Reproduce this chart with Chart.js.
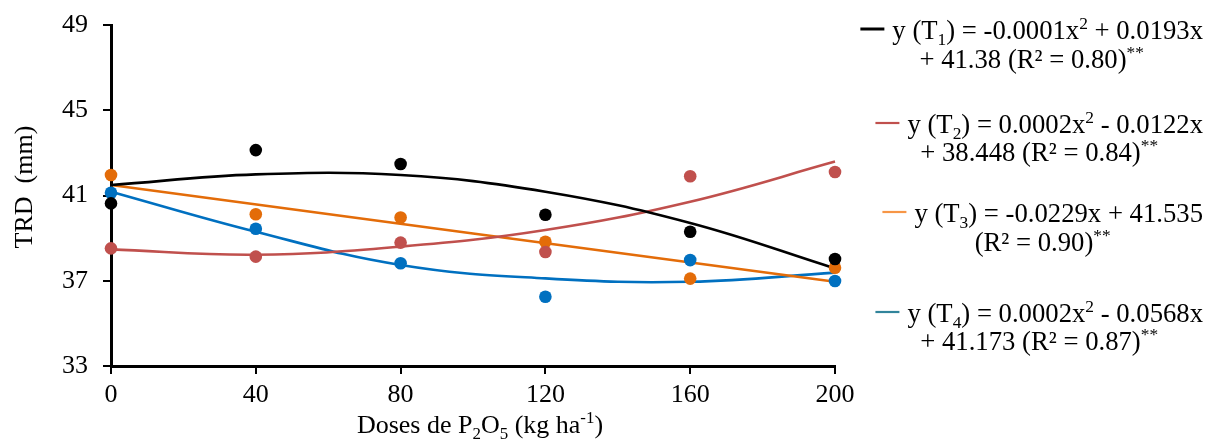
<!DOCTYPE html>
<html><head><meta charset="utf-8">
<script src="https://cdn.jsdelivr.net/npm/chart.js@4"></script>
<style>html,body{margin:0;padding:0;background:#fff}canvas{display:block}</style>
</head><body>
<canvas id="c" width="1208" height="440"></canvas>
<script>
// ---- data ----
const doses = [0, 40, 80, 120, 160, 200];
const t1Obs = [40.63, 43.13, 42.48, 40.10, 39.30, 38.02];
const t2Obs = [38.52, 38.13, 38.79, 38.35, 41.90, 42.10];
const t3Obs = [41.96, 40.12, 39.97, 38.83, 37.10, 37.61];
const t4Obs = [41.13, 39.44, 37.82, 36.25, 37.97, 36.99];
// fitted curves as drawn in the picture
const t1Fit = [41.49, 41.99, 41.96, 41.18, 39.71, 37.58];
const t2Fit = [38.47, 38.22, 38.60, 39.38, 40.71, 42.59];
const t3FitX = [0, 200];
const t3Fit = [41.49, 36.95];
const t4Fit = [41.18, 39.30, 37.74, 37.11, 36.95, 37.38];
const yTicks = [33, 37, 41, 45, 49];
const xTicks = [0, 40, 80, 120, 160, 200];
const yTitle = 'TRD  (mm)';
const xTitle = [['Doses de P'], ['2', 'sub'], ['O'], ['5', 'sub'], [' (kg ha'], ['-1', 'sup'], [')']];
const legendLine1 = [
  [['y (T'], ['1', 'sub'], [') = -0.0001x'], ['2', 'sup'], [' + 0.0193x']],
  [['y (T'], ['2', 'sub'], [') = 0.0002x'], ['2', 'sup'], [' - 0.0122x']],
  [['y (T'], ['3', 'sub'], [') = -0.0229x + 41.535']],
  [['y (T'], ['4', 'sub'], [') = 0.0002x'], ['2', 'sup'], [' - 0.0568x']]
];
const legendLine2 = [
  [['+ 41.38 (R² = 0.80)'], ['**', 'sup']],
  [['+ 38.448 (R² = 0.84)'], ['**', 'sup']],
  [['(R² = 0.90)'], ['**', 'sup']],
  [['+ 41.173 (R² = 0.87)'], ['**', 'sup']]
];
const seriesColors = ['#000000', '#C0504D', '#E36C09', '#0070C0'];
const legendColors = ['#000000', '#C0504D', '#F79646', '#31849B'];

// ---- layout ----
const FONT = '"Liberation Serif", "Times New Roman", serif';
const legendBaselines = [[39, 68], [133, 161], [222, 251], [322, 350]];
const legendRight = 1203;

function segFont(kind, base) {
  if (kind === 'sub' || kind === 'sup') return (base * 0.65).toFixed(1) + 'px ' + FONT;
  return base + 'px ' + FONT;
}
function segOffset(kind) {
  if (kind === 'sub') return 6;
  if (kind === 'sup') return -10;
  return 0;
}
function richWidth(ctx, segs, base) {
  let w = 0;
  for (const s of segs) { ctx.font = segFont(s[1], base); w += ctx.measureText(s[0]).width; }
  return w;
}
function drawRich(ctx, segs, x, y, base) {
  ctx.textBaseline = 'alphabetic';
  ctx.textAlign = 'left';
  for (const s of segs) {
    ctx.font = segFont(s[1], base);
    ctx.fillText(s[0], x, y + segOffset(s[1]));
    x += ctx.measureText(s[0]).width;
  }
}

const overlay = {
  id: 'overlay',
  afterDraw(chart) {
    const ctx = chart.ctx;
    const LF = 26.7;
    ctx.save();
    ctx.fillStyle = '#000';
    // legend
    for (let i = 0; i < legendLine1.length; i++) {
      const w1 = richWidth(ctx, legendLine1[i], LF);
      const textX = legendRight - w1;
      const dashR = textX - 8;
      const dashL = dashR - 24;
      const by = legendBaselines[i][0];
      ctx.strokeStyle = legendColors[i];
      ctx.lineWidth = i === 0 ? 3 : 2.2;
      ctx.beginPath();
      ctx.moveTo(dashL, by - 10);
      ctx.lineTo(dashR, by - 10);
      ctx.stroke();
      ctx.fillStyle = '#000';
      drawRich(ctx, legendLine1[i], textX, by, LF);
      const w2 = richWidth(ctx, legendLine2[i], LF);
      const cx = (dashL + legendRight) / 2;
      drawRich(ctx, legendLine2[i], cx - w2 / 2, legendBaselines[i][1], LF);
    }
    // x title
    const wx = richWidth(ctx, xTitle, 26);
    drawRich(ctx, xTitle, 480 - wx / 2, 433, 26);
    // y title
    ctx.translate(25, 187);
    ctx.rotate(-Math.PI / 2);
    ctx.font = '26px ' + FONT;
    ctx.textAlign = 'center';
    ctx.textBaseline = 'middle';
    ctx.fillText(yTitle, 0, 0);
    ctx.restore();
  }
};

function pts(xs, ys) { return xs.map((x, i) => ({ x: x, y: ys[i] })); }
function obsSet(ys, color) {
  return { data: pts(doses, ys), showLine: false, pointRadius: 6.3, pointHoverRadius: 6.3,
    backgroundColor: color, borderColor: color, borderWidth: 0, order: 0, clip: false };
}
function fitSet(xs, ys, color) {
  return { data: pts(xs, ys), showLine: true, pointRadius: 0, pointHoverRadius: 0,
    borderColor: color, backgroundColor: color, borderWidth: 2.6, tension: 0.4, order: 1, clip: false };
}

Chart.defaults.font.family = FONT;
Chart.defaults.font.size = 26;
Chart.defaults.color = '#000';

new Chart(document.getElementById('c'), {
  type: 'scatter',
  data: {
    datasets: [
      fitSet(doses, t1Fit, seriesColors[0]),
      fitSet(doses, t2Fit, seriesColors[1]),
      fitSet(t3FitX, t3Fit, seriesColors[2]),
      fitSet(doses, t4Fit, seriesColors[3]),
      obsSet(t1Obs, seriesColors[0]),
      obsSet(t2Obs, seriesColors[1]),
      obsSet(t3Obs, seriesColors[2]),
      obsSet(t4Obs, seriesColors[3])
    ]
  },
  options: {
    responsive: false,
    devicePixelRatio: 1,
    animation: false,
    events: [],
    layout: { padding: { left: 0, top: 25, right: 373, bottom: 0 } },
    plugins: { legend: { display: false }, tooltip: { enabled: false } },
    scales: {
      x: {
        type: 'linear', min: 0, max: 200,
        afterBuildTicks(s) { s.ticks = xTicks.map(v => ({ value: v })); },
        afterFit(s) { s.height = 74; s.paddingLeft = 0; s.paddingRight = 0; },
        grid: { drawOnChartArea: false, drawTicks: true, tickLength: 8, color: '#000', lineWidth: 2 },
        border: { display: true, color: '#000', width: 3 },
        ticks: { padding: 6, maxRotation: 0, autoSkip: false, font: { size: 26 } }
      },
      y: {
        type: 'linear', min: 33, max: 49,
        afterBuildTicks(s) { s.ticks = yTicks.map(v => ({ value: v })); },
        afterFit(s) { s.width = 111; s.paddingTop = 0; s.paddingBottom = 0; },
        grid: { drawOnChartArea: false, drawTicks: true, tickLength: 8, color: '#000', lineWidth: 2 },
        border: { display: true, color: '#000', width: 3 },
        ticks: { padding: 15, autoSkip: false, font: { size: 26 } }
      }
    }
  },
  plugins: [overlay]
});
</script>
</body></html>
